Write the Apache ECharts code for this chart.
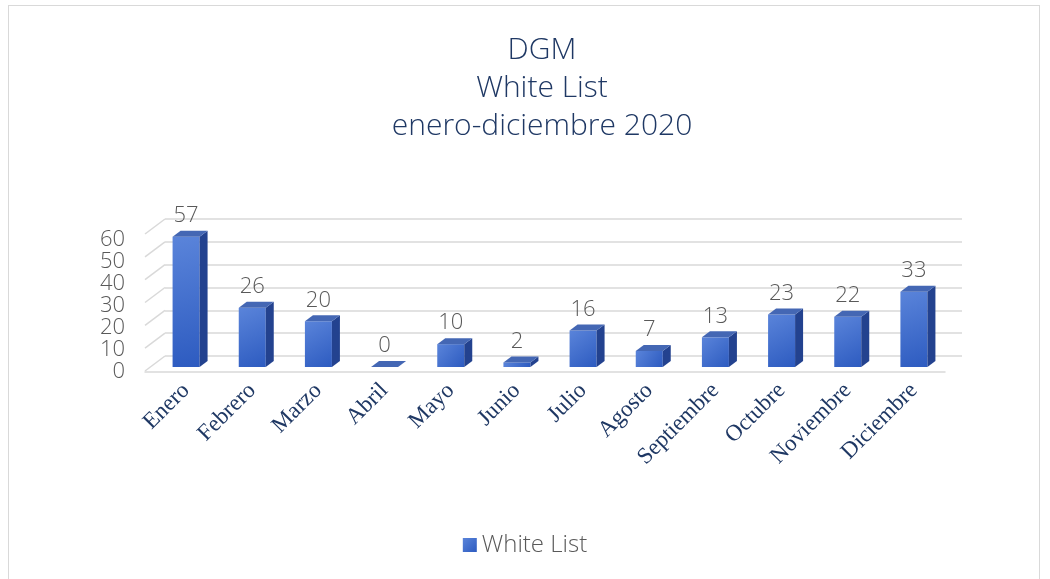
<!DOCTYPE html>
<html>
<head>
<meta charset="utf-8">
<script src="https://cdn.jsdelivr.net/npm/echarts@6/dist/echarts.min.js"></script>
<style>
  html, body { margin: 0; padding: 0; background: #fff; }
  #frame { position: absolute; left: 8px; top: 5px; width: 1032px; height: 590px; border: 1px solid #d9d9d9; box-sizing: border-box; }
  #chart { position: absolute; left: 0; top: 0; width: 1050px; height: 579px; }
</style>
</head>
<body>
<div id="frame"></div>
<div id="chart"></div>
<script>
const months = ['Enero', 'Febrero', 'Marzo', 'Abril', 'Mayo', 'Junio', 'Julio', 'Agosto', 'Septiembre', 'Octubre', 'Noviembre', 'Diciembre']
const whiteList = [57, 26, 20, 0, 10, 2, 16, 7, 13, 23, 22, 33]
const yTicks = [0, 10, 20, 30, 40, 50, 60]

const DX = 8, DY = -6         // bar depth
const WX = 20, WY = 15        // wall depth (front -> back)
const barW = 27
const navy = '#1f3864'
const gray = '#595959'

const chart = echarts.init(document.getElementById('chart'))

const option = {
  animation: false,
  title: {
    text: 'DGM\nWhite List\nenero-diciembre 2020',
    left: 537,
    textAlign: 'center',
    top: 26,
    textStyle: { color: navy, fontSize: 30, fontWeight: 300, lineHeight: 38, fontFamily: 'Open Sans' }
  },
  legend: {
    bottom: 17,
    left: 'center',
    icon: 'rect',
    itemWidth: 14,
    itemHeight: 14,
    itemGap: 8,
    textStyle: { color: gray, fontSize: 24, fontWeight: 300, fontFamily: 'Open Sans' },
    data: ['White List']
  },
  grid: [
    // bars plane
    { left: 153, right: 1050 - 947, top: 230, height: 137 },
    // back wall
    { left: 165, right: 1050 - 962, top: 219, height: 137 },
    // front (labels)
    { left: 145, right: 1050 - 945, top: 240, height: 132 }
  ],
  xAxis: [
    {
      gridIndex: 0, type: 'category', data: months,
      axisLine: { show: false }, axisTick: { show: false },
      axisLabel: { rotate: 45, margin: 20, fontSize: 23, color: navy, fontFamily: 'Liberation Serif', interval: 0 }
    },
    { gridIndex: 1, type: 'value', min: 0, max: 1, show: false },
    {
      gridIndex: 2, type: 'category', data: months,
      axisLine: { show: true, lineStyle: { color: '#d9d9d9', width: 1.5 } },
      axisTick: { show: false }, axisLabel: { show: false }
    }
  ],
  yAxis: [
    { gridIndex: 0, type: 'value', min: 0, max: 60, interval: 10, show: false },
    {
      gridIndex: 1, type: 'value', min: 0, max: 60, interval: 10,
      axisLine: { show: false }, axisTick: { show: false }, axisLabel: { show: false },
      splitLine: { show: true, lineStyle: { color: '#d9d9d9', width: 1.5 } }
    },
    {
      gridIndex: 2, type: 'value', min: 0, max: 60, interval: 10,
      axisLine: { show: false }, axisTick: { show: false },
      splitLine: { show: false },
      axisLabel: { fontSize: 22, fontWeight: 300, color: gray, margin: 20, fontFamily: 'Open Sans' }
    }
  ],
  series: [
    {
      // slanted left wall lines
      type: 'custom',
      xAxisIndex: 1,
      yAxisIndex: 1,
      silent: true,
      data: yTicks.map(v => [0, v]),
      renderItem: function (params, api) {
        const p = api.coord([0, api.value(1)])
        return {
          type: 'line',
          shape: { x1: p[0], y1: p[1], x2: p[0] - WX, y2: p[1] + WY },
          style: { stroke: '#d9d9d9', lineWidth: 1.5 }
        }
      }
    },
    {
      name: 'White List',
      type: 'bar',
      xAxisIndex: 0,
      yAxisIndex: 0,
      barWidth: barW,
      data: whiteList,
      z: 3,
      itemStyle: {
        color: new echarts.graphic.LinearGradient(0, 0, 1, 1, [
          { offset: 0, color: '#5a84da' },
          { offset: 1, color: '#2d5bc0' }
        ])
      },
      label: {
        show: true, position: 'top', distance: 10,
        fontSize: 22, fontWeight: 300, color: gray, fontFamily: 'Open Sans'
      }
    },
    {
      // side and top faces
      type: 'custom',
      xAxisIndex: 0,
      yAxisIndex: 0,
      silent: true,
      z: 4,
      data: whiteList.map((v, i) => [i, v]),
      renderItem: function (params, api) {
        const top = api.coord([api.value(0), api.value(1)])
        const base = api.coord([api.value(0), 0])
        const xl = top[0] - barW / 2
        const xr = top[0] + barW / 2
        return {
          type: 'group',
          children: [
            {
              type: 'polygon',
              shape: { points: [[xr, top[1]], [xr + DX, top[1] + DY], [xr + DX, base[1] + DY], [xr, base[1]]] },
              style: { fill: '#23428f' }
            },
            {
              type: 'polygon',
              shape: { points: [[xl, top[1]], [xr, top[1]], [xr + DX, top[1] + DY], [xl + DX, top[1] + DY]] },
              style: { fill: '#4467b4' }
            }
          ]
        }
      }
    }
  ]
}

chart.setOption(option)
</script>
</body>
</html>
